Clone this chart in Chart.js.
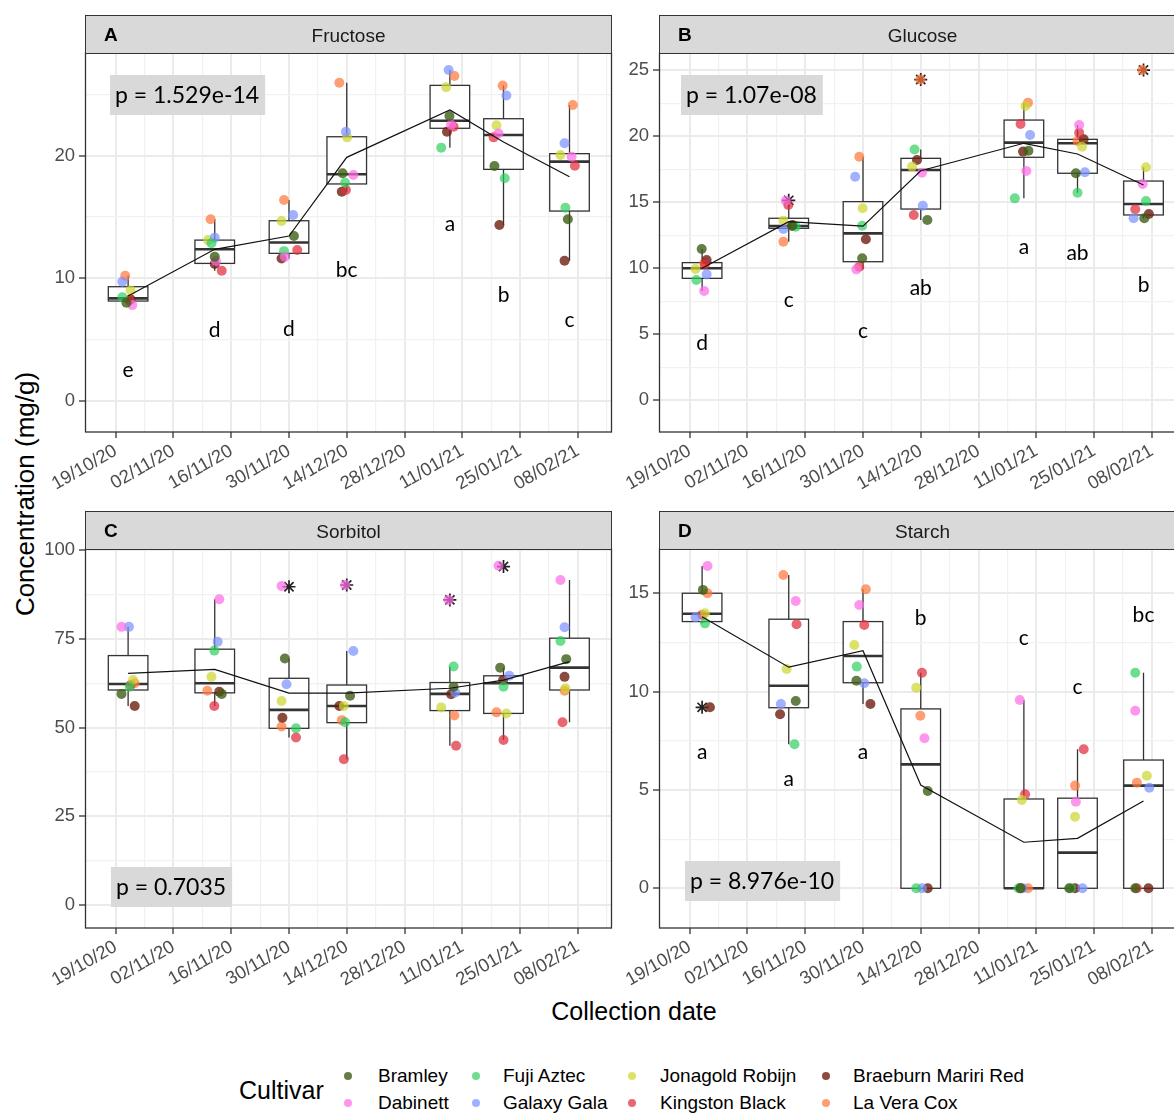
<!DOCTYPE html>
<html>
<head>
<meta charset="utf-8">
<script src="https://cdn.jsdelivr.net/npm/chart.js@4.4.1/dist/chart.umd.min.js"></script>
<style>
  body { margin: 0; width: 1174px; height: 1113px; overflow: hidden; background: #fff; position: relative; font-family: "Liberation Sans", Arial, sans-serif; color: #000; }
  canvas.panel { position: absolute; }
  .strip { position: absolute; box-sizing: border-box; height: 39px; border: 1.3px solid #333; background: #d9d9d9; }
  .strip .tag { position: absolute; left: 18px; top: 0; line-height: 37px; font-weight: bold; font-size: 19px; }
  .strip .name { position: absolute; left: 0; right: 0; top: 0; line-height: 39px; text-align: center; font-size: 19px; color: #1a1a1a; }
  .ytitle { position: absolute; left: 25px; top: 494px; font-size: 26px; white-space: nowrap; transform: translate(-50%, -50%) rotate(-90deg); }
  .xtitle { position: absolute; left: 634px; top: 1011px; font-size: 25px; white-space: nowrap; transform: translate(-50%, -50%); }
  .legend-title { position: absolute; left: 239px; top: 1090px; font-size: 25px; transform: translateY(-50%); }
  .legend-item { position: absolute; font-size: 19px; transform: translateY(-50%); white-space: nowrap; }
  .legend-dot { position: absolute; width: 8px; height: 8px; border-radius: 50%; transform: translate(-50%, -50%); }
</style>
</head>
<body>
<div class="ytitle">Concentration (mg/g)</div>
<div class="xtitle">Collection date</div>
<div class="legend-title">Cultivar</div>
<script>
const cultivars = ["Bramley", "Dabinett", "Fuji Aztec", "Galaxy Gala", "Jonagold Robijn", "Kingston Black", "Braeburn Mariri Red", "La Vera Cox"]
const cultivarColors = ["rgba(62,94,22,0.8)", "rgba(255,110,230,0.72)", "rgba(40,205,90,0.68)", "rgba(125,145,255,0.72)", "rgba(205,215,50,0.72)", "rgba(225,45,60,0.72)", "rgba(110,30,15,0.8)", "rgba(255,120,60,0.72)"]
const collectionDates = ["2020-10-22", "2020-11-12", "2020-11-30", "2020-12-14", "2021-01-08", "2021-01-21", "2021-02-06"]
const firstTickDate = "2020-10-19"

// rows follow cultivars, columns follow collectionDates
const fructoseValues = [
  [8.0, 11.75, 13.43, 18.55, 23.22, 19.14, 14.8],
  [7.8, 11.4, 11.75, 18.41, 22.5, 21.8, 19.9],
  [8.43, 12.84, 12.2, 17.78, 20.64, 18.14, 15.74],
  [9.7, 13.3, 15.15, 21.94, 26.97, 24.9, 21.0],
  [9.0, 13.1, 14.66, 21.48, 25.56, 22.46, 20.04],
  [8.2, 10.6, 12.3, 17.19, 22.35, 21.48, 19.17],
  [8.27, 11.15, 11.6, 17.05, 21.94, 14.33, 11.42],
  [10.2, 14.8, 16.37, 25.94, 26.48, 25.7, 24.12],
]
const fructoseJitter = [
  [-0.4, 0.0, 1.2, -1.0, -0.1, -2.2, -0.4],
  [1.0, 0.3, -1.0, 1.6, 0.3, -1.2, 0.5],
  [-1.4, -0.8, -1.2, -0.4, -2.1, 0.3, -1.0],
  [-1.4, 0.0, 1.0, -0.2, -0.3, 0.7, -1.2],
  [0.6, -1.6, -1.8, 0.1, -0.9, -1.7, -2.2],
  [0.4, 1.7, 2.0, -0.2, 0.9, -2.4, 1.3],
  [0.6, 0.0, -1.8, -1.2, -0.7, -1.0, -1.2],
  [-0.7, -1.0, -1.2, -1.8, 1.1, -0.2, 0.8],
]
// [min, q1, median, q3, max] per date
const fructoseBoxes = [[7.8, 8.13, 8.35, 9.3, 10.2], [10.6, 11.2, 12.35, 13.1, 14.8], [11.6, 12.02, 12.9, 14.68, 16.37], [17.05, 17.68, 18.47, 21.53, 25.94], [20.64, 22.22, 22.84, 25.72, 26.97], [14.33, 18.87, 21.67, 23.0, 25.7], [11.42, 15.47, 19.5, 20.15, 24.12]]
const fructoseMeans = [8.54, 12.35, 13.43, 19.85, 23.71, 21.1, 18.27]
const fructoseOutliers = [null, null, null, null, null, null, null]
const fructoseLetters = ["e", "d", "d", "bc", "a", "b", "c"]
const fructoseLetterY = [2.5, 5.74, 5.82, 10.66, 14.41, 8.62, 6.53]

const glucoseValues = [
  [11.46, 13.2, 10.76, 13.66, 18.91, 17.2, 13.79],
  [8.28, 15.12, 9.92, 17.24, 17.37, 20.86, 16.39],
  [9.11, 13.15, 13.23, 19.0, 15.3, 15.73, 15.1],
  [9.54, 12.98, 16.94, 14.74, 20.1, 17.27, 13.79],
  [9.95, 13.61, 14.55, 17.7, 22.3, 19.21, 17.65],
  [10.3, 14.8, 10.12, 14.04, 20.93, 20.27, 14.47],
  [10.63, 13.28, 12.2, 18.2, 18.84, 19.77, 14.11],
  [10.38, 12.02, 18.45, 24.3, 22.55, 19.64, 25.02],
]
const glucoseJitter = [
  [-0.1, 0.8, -0.2, 1.6, 1.1, -0.4, 0.2],
  [0.5, -0.7, -1.6, 0.3, 0.6, 0.4, -0.2],
  [-1.4, 1.7, -0.2, -1.5, -2.2, 0.0, 0.6],
  [1.1, -1.3, -1.9, 0.5, 1.5, 1.8, -2.4],
  [-1.6, -1.3, -0.1, -2.1, 0.4, 1.1, 0.6],
  [0.7, -0.1, -0.9, -1.7, -0.8, 0.4, -2.0],
  [1.1, 0.9, 0.7, -0.9, -0.2, 1.5, 1.3],
  [0.5, -1.3, -0.9, -0.1, 1.0, 0.0, -0.3],
]
const glucoseBoxes = [[8.28, 9.24, 10.0, 10.43, 11.46], [12.02, 13.03, 13.2, 13.79, 14.8], [9.92, 10.5, 12.65, 15.05, 18.45], [13.66, 14.49, 17.45, 18.33, 19.0], [15.3, 18.41, 19.52, 21.23, 22.55], [15.73, 17.2, 19.47, 19.77, 20.86], [13.79, 14.04, 14.87, 16.61, 17.65]]
const glucoseMeans = [10.0, 13.53, 13.2, 17.39, 19.47, 18.66, 16.31]
const glucoseOutliers = [null, 15.15, null, 24.3, null, null, 25.02]
const glucoseLetters = ["d", "c", "c", "ab", "a", "ab", "b"]
const glucoseLetterY = [4.32, 7.6, 5.27, 8.48, 11.59, 11.13, 8.73]

const sorbitolValues = [
  [59.5, 59.5, 69.5, 59.0, 61.5, 66.9, 69.3],
  [78.4, 86.2, 89.9, 90.2, 86.0, 95.6, 91.6],
  [61.5, 71.7, 49.8, 51.5, 67.2, 61.5, 74.4],
  [78.4, 74.2, 62.2, 71.6, 59.9, 64.6, 78.3],
  [63.4, 64.3, 57.5, 56.1, 55.7, 54.0, 61.1],
  [62.0, 56.1, 47.2, 41.1, 44.9, 46.5, 51.5],
  [56.1, 60.1, 52.8, 56.1, 59.4, 63.4, 64.3],
  [62.5, 60.4, 50.3, 52.1, 53.4, 54.3, 60.4],
]
const sorbitolJitter = [
  [-1.6, 1.7, -1.0, 0.8, 0.9, -0.8, -0.8],
  [-1.6, 1.1, -1.8, -0.4, -0.3, -1.2, -2.2],
  [0.4, -0.1, 1.7, -0.4, 0.9, 0.0, -2.2],
  [0.2, 0.7, -0.6, 1.6, 1.3, 1.4, -1.2],
  [1.2, -0.8, -1.8, -0.7, -2.1, 0.7, -1.0],
  [0.6, -0.1, 1.7, -0.7, 1.5, 0.0, -1.7],
  [1.6, 1.1, -1.6, -1.8, 0.3, -0.1, -1.2],
  [1.6, -1.8, -1.8, -1.2, 1.1, -1.7, -1.2],
]
const sorbitolBoxes = [[56.1, 60.6, 62.3, 70.3, 78.4], [56.1, 59.8, 62.5, 72.1, 86.2], [47.2, 49.8, 55.0, 63.9, 69.5], [41.1, 51.4, 56.1, 62.0, 71.6], [44.9, 54.8, 59.5, 62.7, 67.2], [46.5, 54.0, 62.5, 64.6, 66.9], [51.5, 60.6, 66.9, 75.2, 91.6]]
const sorbitolMeans = [65.3, 66.4, 59.7, 59.7, 61.1, 63.4, 68.6]
const sorbitolOutliers = [null, null, 89.7, 90.2, 86.0, 95.4, null]
const sorbitolLetters = []
const sorbitolLetterY = []

const starchValues = [
  [15.17, 9.52, 10.55, 4.95, 0, 0, 0],
  [16.39, 14.61, 14.4, 7.63, 9.57, 4.4, 9.03],
  [13.47, 7.32, 11.27, 0, 0, 0, 10.96],
  [13.78, 9.37, 10.42, 0, 0, 0, 5.11],
  [13.98, 11.15, 12.37, 10.2, 4.49, 3.64, 5.72],
  [13.9, 13.42, 13.39, 10.96, 4.78, 7.07, 0],
  [9.2, 8.85, 9.37, 0, 0, 0, 0],
  [15.0, 15.93, 15.2, 8.77, 0, 5.22, 5.37],
]
const starchJitter = [
  [0.2, 1.7, -1.6, 1.7, -0.8, -2.0, -2.0],
  [1.3, 1.7, -0.9, 0.9, -1.0, -0.4, -2.0],
  [0.7, 1.4, -1.5, -1.1, -1.3, -1.6, -2.0],
  [-1.6, -1.9, 0.3, 0.3, -0.3, 1.2, 1.4],
  [0.7, -0.5, -2.1, -1.1, -0.5, -0.6, 0.8],
  [0.0, 1.9, 0.3, 0.3, 0.3, 1.5, -1.6],
  [1.9, -2.1, 1.8, 1.7, -0.8, -0.6, 1.2],
  [1.3, -1.3, 0.7, -0.1, 1.0, -0.6, -1.6],
]
const starchBoxes = [[13.47, 13.56, 13.96, 15.0, 16.39], [7.32, 9.18, 10.3, 13.68, 15.93], [9.37, 10.45, 11.81, 13.56, 15.2], [0, 0, 6.3, 9.12, 10.96], [0, 0, 0, 4.54, 9.57], [0, 0, 1.81, 4.58, 7.07], [0, 0, 5.22, 6.52, 10.96]]
const starchMeans = [13.81, 11.24, 12.08, 5.25, 2.34, 2.54, 4.44]
const starchOutliers = [9.2, null, null, null, null, null, null]
const starchLetters = ["a", "a", "a", "b", "c", "c", "bc"]
const starchLetterY = [6.91, 5.56, 6.91, 13.73, 12.71, 10.2, 13.9]

const DAY = 864e5
const dayOf = (s) => (Date.parse(s) - Date.parse(firstTickDate)) / DAY
const dates = collectionDates.map(dayOf)
const two = (n) => String(n).padStart(2, "0")
function dateLabel(day) {
  const d = new Date(Date.parse(firstTickDate) + day * DAY)
  return `${two(d.getUTCDate())}/${two(d.getUTCMonth() + 1)}/${String(d.getUTCFullYear()).slice(2)}`
}

const AXIS_W = 80, AXIS_H = 90, PAD_TOP = 14, PAD_RIGHT = 14
const PLOT_W = 527, PLOT_H = 379
const X_MIN = -7.45, X_MAX = 120.3
const BOX_HALF = 4.8
const xTicks = []
for (let v = 0; v <= 119; v += 7) xTicks.push(v)
const tickFont = { family: "Liberation Sans", size: 18.5 }
const isMajor = (v, step) => Math.abs(v / step - Math.round(v / step)) < 1e-6

const panels = [
  { tag: "A", name: "Fructose", left: 85, top: 53, values: fructoseValues, jitter: fructoseJitter, boxes: fructoseBoxes, means: fructoseMeans, outliers: fructoseOutliers, letters: fructoseLetters, letterY: fructoseLetterY, yMin: -2.55, yMax: 28.36, minor: 5, major: 10, yTop: 25, p: "p = 1.529e-14", pBox: { dx: 25, top: 22 } },
  { tag: "B", name: "Glucose", left: 659, top: 53, values: glucoseValues, jitter: glucoseJitter, boxes: glucoseBoxes, means: glucoseMeans, outliers: glucoseOutliers, letters: glucoseLetters, letterY: glucoseLetterY, yMin: -2.4, yMax: 26.31, minor: 2.5, major: 5, yTop: 25, p: "p = 1.07e-08", pBox: { dx: 22, top: 22 } },
  { tag: "C", name: "Sorbitol", left: 85, top: 549, values: sorbitolValues, jitter: sorbitolJitter, boxes: sorbitolBoxes, means: sorbitolMeans, outliers: sorbitolOutliers, letters: sorbitolLetters, letterY: sorbitolLetterY, yMin: -6.48, yMax: 100.34, minor: 12.5, major: 25, yTop: 100, p: "p = 0.7035", pBox: { dx: 26, bottom: 21 } },
  { tag: "D", name: "Starch", left: 659, top: 549, values: starchValues, jitter: starchJitter, boxes: starchBoxes, means: starchMeans, outliers: starchOutliers, letters: starchLetters, letterY: starchLetterY, yMin: -2.02, yMax: 17.25, minor: 2.5, major: 5, yTop: 15, p: "p = 8.976e-10", pBox: { dx: 26, bottom: 27 } },
]

const panelDecor = {
  id: "panelDecor",
  beforeDatasetsDraw(chart, args, opts) {
    const { ctx, scales: { x, y } } = chart
    const panel = opts.panel
    ctx.save()
    ctx.strokeStyle = "#333"
    ctx.lineWidth = 1.3
    panel.boxes.forEach((b, i) => {
      const [lo, q1, med, q3, hi] = b.map((v) => y.getPixelForValue(v))
      const cx = x.getPixelForValue(dates[i])
      const x0 = x.getPixelForValue(dates[i] - BOX_HALF)
      const x1 = x.getPixelForValue(dates[i] + BOX_HALF)
      ctx.beginPath()
      ctx.moveTo(cx, hi); ctx.lineTo(cx, q3)
      ctx.moveTo(cx, q1); ctx.lineTo(cx, lo)
      ctx.stroke()
      ctx.fillStyle = "#fff"
      ctx.fillRect(x0, q3, x1 - x0, q1 - q3)
      ctx.strokeRect(x0, q3, x1 - x0, q1 - q3)
      ctx.lineWidth = 2.6
      ctx.beginPath(); ctx.moveTo(x0, med); ctx.lineTo(x1, med); ctx.stroke()
      ctx.lineWidth = 1.3
    })
    ctx.restore()
  },
  afterDraw(chart, args, opts) {
    const { ctx, chartArea: a, scales: { x, y } } = chart
    const panel = opts.panel
    ctx.save()
    ctx.fillStyle = "#000"
    ctx.font = "21px Lato"
    ctx.textAlign = "center"
    ctx.textBaseline = "middle"
    panel.letters.forEach((t, i) => ctx.fillText(t, x.getPixelForValue(dates[i]), y.getPixelForValue(panel.letterY[i])))

    ctx.font = "23px Lato"
    ctx.textAlign = "left"
    const w = ctx.measureText(panel.p).width + 11
    const h = 40
    const bx = a.left + panel.pBox.dx
    const by = panel.pBox.top != null ? a.top + panel.pBox.top : a.bottom - panel.pBox.bottom - h
    ctx.fillStyle = "#d9d9d9"
    ctx.fillRect(bx, by, w, h)
    ctx.fillStyle = "#000"
    ctx.fillText(panel.p, bx + 5, by + h / 2 + 1)

    ctx.strokeStyle = "#333"
    ctx.lineWidth = 1.3
    ctx.strokeRect(a.left + 0.5, a.top, a.right - a.left - 1, a.bottom - a.top)
    ctx.restore()
  },
}

panels.forEach((panel) => {
  const canvas = document.createElement("canvas")
  canvas.className = "panel"
  canvas.width = AXIS_W + PLOT_W + PAD_RIGHT
  canvas.height = PAD_TOP + PLOT_H + AXIS_H
  canvas.style.left = `${panel.left - AXIS_W}px`
  canvas.style.top = `${panel.top - PAD_TOP}px`
  document.body.appendChild(canvas)

  const strip = document.createElement("div")
  strip.className = "strip"
  strip.style.left = `${panel.left}px`
  strip.style.top = `${panel.top - 38}px`
  strip.style.width = `${PLOT_W}px`
  strip.innerHTML = `<span class="tag">${panel.tag}</span><span class="name">${panel.name}</span>`
  document.body.appendChild(strip)

  const yTicks = []
  for (let v = 0; v <= panel.yTop + 1e-9; v += panel.minor) yTicks.push(v)

  const pointSets = cultivars.map((name, c) => ({
    type: "scatter",
    label: name,
    order: 1,
    data: panel.values[c].map((v, i) => ({ x: dates[i] + panel.jitter[c][i], y: v })),
    backgroundColor: cultivarColors[c],
    borderWidth: 0,
    pointRadius: 5,
  }))
  const outlierSet = {
    type: "scatter",
    label: "outliers",
    order: 2,
    data: panel.outliers.map((v, i) => (v == null ? null : { x: dates[i], y: v })).filter(Boolean),
    pointStyle: "star",
    pointRadius: 6.5,
    borderColor: "#222",
    borderWidth: 1.7,
  }
  const meanSet = {
    type: "line",
    label: "mean",
    order: 0,
    data: panel.means.map((v, i) => ({ x: dates[i], y: v })),
    borderColor: "#111",
    borderWidth: 1.2,
    pointRadius: 0,
    fill: false,
    tension: 0,
  }

  new Chart(canvas, {
    data: { datasets: [meanSet, ...pointSets, outlierSet] },
    options: {
      responsive: false,
      animation: false,
      events: [],
      layout: { padding: { top: PAD_TOP, right: PAD_RIGHT, left: 0, bottom: 0 } },
      plugins: { legend: { display: false }, tooltip: { enabled: false }, panelDecor: { panel } },
      scales: {
        x: {
          type: "linear",
          min: X_MIN,
          max: X_MAX,
          afterBuildTicks: (s) => { s.ticks = xTicks.map((v) => ({ value: v })) },
          afterFit: (s) => { s.height = AXIS_H; s.paddingLeft = 0; s.paddingRight = 0 },
          ticks: { autoSkip: false, minRotation: 30, maxRotation: 30, padding: 2, color: "#4d4d4d", font: tickFont, callback: (v) => (isMajor(v, 14) ? dateLabel(v) : "") },
          grid: {
            color: (c) => (isMajor(c.tick.value, 14) ? "#ebebeb" : "#f1f1f1"),
            lineWidth: (c) => (isMajor(c.tick.value, 14) ? 2 : 1.2),
            tickColor: (c) => (isMajor(c.tick.value, 14) ? "#333" : "rgba(0,0,0,0)"),
            tickLength: 6,
            tickWidth: 1.3,
          },
          border: { display: false },
        },
        y: {
          type: "linear",
          min: panel.yMin,
          max: panel.yMax,
          afterBuildTicks: (s) => { s.ticks = yTicks.map((v) => ({ value: v })) },
          afterFit: (s) => { s.width = AXIS_W; s.paddingTop = 0; s.paddingBottom = 0 },
          ticks: { autoSkip: false, padding: 4, color: "#4d4d4d", font: tickFont, callback: (v) => (isMajor(v, panel.major) ? String(v) : "") },
          grid: {
            color: (c) => (isMajor(c.tick.value, panel.major) ? "#ebebeb" : "#f1f1f1"),
            lineWidth: (c) => (isMajor(c.tick.value, panel.major) ? 2 : 1.2),
            tickColor: (c) => (isMajor(c.tick.value, panel.major) ? "#333" : "rgba(0,0,0,0)"),
            tickLength: 6,
            tickWidth: 1.3,
          },
          border: { display: false },
        },
      },
    },
    plugins: [panelDecor],
  })
})

const legendDotX = [348, 476, 632, 826]
const legendTextX = [378, 503, 660, 853]
const legendRowY = [1076, 1103]
cultivars.forEach((name, i) => {
  const col = Math.floor(i / 2), row = i % 2
  const dot = document.createElement("div")
  dot.className = "legend-dot"
  dot.style.left = `${legendDotX[col]}px`
  dot.style.top = `${legendRowY[row]}px`
  dot.style.background = cultivarColors[i]
  document.body.appendChild(dot)
  const label = document.createElement("div")
  label.className = "legend-item"
  label.style.left = `${legendTextX[col]}px`
  label.style.top = `${legendRowY[row]}px`
  label.textContent = name
  document.body.appendChild(label)
})
</script>
</body>
</html>
